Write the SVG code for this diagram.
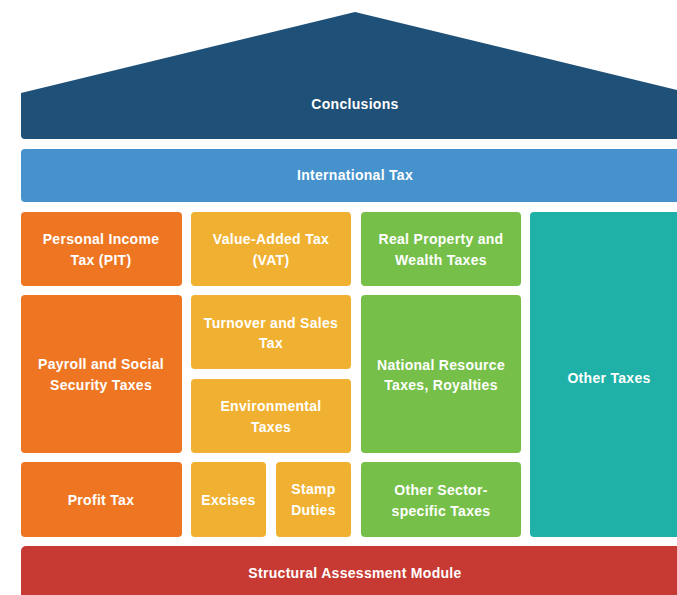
<svg xmlns="http://www.w3.org/2000/svg" width="677" height="595" viewBox="0 0 677 595">
<style>
.t{font-family:"Liberation Sans",Arial,sans-serif;font-weight:bold;font-size:14px;fill:#ffffff;text-anchor:middle;letter-spacing:0.3px}
.or{fill:#ee7623}.ye{fill:#f0b132}.gr{fill:#76c04a}.te{fill:#1fb0a7}
</style>
<rect width="677" height="595" fill="#ffffff"/>
<g id="conclusions">
<path d="M21,93 L355,12 L689,93 L689,134 Q689,139 684,139 L25,139 Q21,139 21,135 Z" fill="#1f5077"/>
<text class="t" x="355" y="109">Conclusions</text>
</g>
<g id="international-tax">
<rect x="21" y="149" width="668" height="53" rx="4" fill="#4592cc"/>
<text class="t" x="355" y="180">International Tax</text>
</g>
<g id="pit">
<rect class="or" x="21" y="212" width="161" height="74" rx="4"/>
<text class="t" x="101" y="244">Personal Income</text>
<text class="t" x="101" y="265">Tax (PIT)</text>
</g>
<g id="vat">
<rect class="ye" x="191" y="212" width="160" height="74" rx="4"/>
<text class="t" x="271" y="244">Value-Added Tax</text>
<text class="t" x="271" y="265">(VAT)</text>
</g>
<g id="real-property">
<rect class="gr" x="361" y="212" width="160" height="74" rx="4"/>
<text class="t" x="441" y="244">Real Property and</text>
<text class="t" x="441" y="265">Wealth Taxes</text>
</g>
<g id="other-taxes">
<rect class="te" x="530" y="212" width="159" height="325" rx="4"/>
<text class="t" x="609" y="383">Other Taxes</text>
</g>
<g id="payroll">
<rect class="or" x="21" y="295" width="161" height="158" rx="4"/>
<text class="t" x="101" y="369">Payroll and Social</text>
<text class="t" x="101" y="390">Security Taxes</text>
</g>
<g id="turnover">
<rect class="ye" x="191" y="295" width="160" height="74" rx="4"/>
<text class="t" x="271" y="328">Turnover and Sales</text>
<text class="t" x="271" y="348">Tax</text>
</g>
<g id="environmental">
<rect class="ye" x="191" y="379" width="160" height="74" rx="4"/>
<text class="t" x="271" y="411">Environmental</text>
<text class="t" x="271" y="432">Taxes</text>
</g>
<g id="national-resource">
<rect class="gr" x="361" y="295" width="160" height="158" rx="4"/>
<text class="t" x="441" y="370">National Resource</text>
<text class="t" x="441" y="390">Taxes, Royalties</text>
</g>
<g id="profit-tax">
<rect class="or" x="21" y="462" width="161" height="75" rx="4"/>
<text class="t" x="101" y="505">Profit Tax</text>
</g>
<g id="excises">
<rect class="ye" x="191" y="462" width="75" height="75" rx="4"/>
<text class="t" x="228.5" y="505">Excises</text>
</g>
<g id="stamp-duties">
<rect class="ye" x="276" y="462" width="75" height="75" rx="4"/>
<text class="t" x="313.5" y="494">Stamp</text>
<text class="t" x="313.5" y="515">Duties</text>
</g>
<g id="other-sector">
<rect class="gr" x="361" y="462" width="160" height="75" rx="4"/>
<text class="t" x="441" y="495">Other Sector-</text>
<text class="t" x="441" y="516">specific Taxes</text>
</g>
<g id="structural-assessment">
<rect x="21" y="546" width="668" height="60" rx="5" fill="#c73a33"/>
<text class="t" x="355" y="578">Structural Assessment Module</text>
</g>
<g id="connectors"></g>
</svg>
